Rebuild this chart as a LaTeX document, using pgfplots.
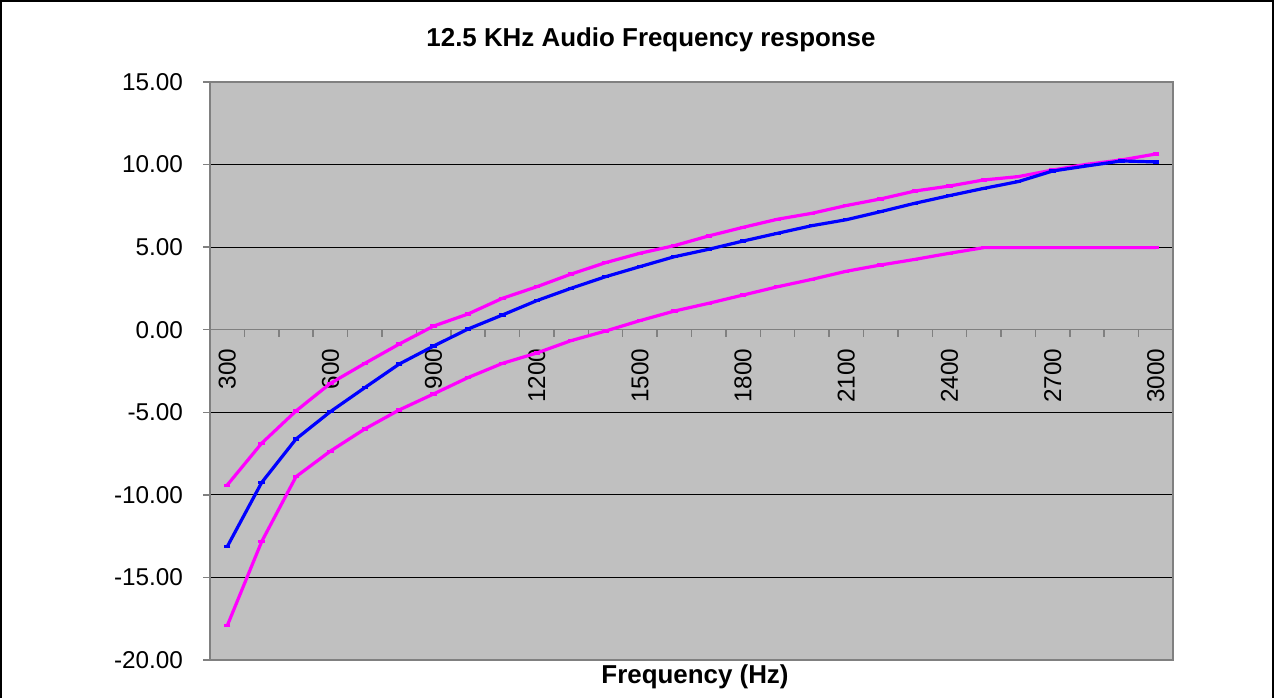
\documentclass[border=0pt]{standalone}
\usepackage{pgfplots}
\pgfplotsset{compat=1.18}
\usepackage{pgfplotstable}
\usepackage{fontspec}
\setmainfont{Liberation Sans}
\definecolor{bgGray}{HTML}{C0C0C0}
\definecolor{frameGray}{HTML}{808080}
\definecolor{exBlue}{HTML}{0000FF}
\definecolor{exPink}{HTML}{FF00FF}

\pgfplotstableread{
x U B L
300 -9.41 -13.14 -17.93
400 -6.88 -9.26 -12.84
500 -4.92 -6.62 -8.90
600 -3.25 -4.96 -7.35
700 -2.04 -3.51 -6.01
800 -0.87 -2.08 -4.86
900 0.22 -0.99 -3.89
1000 0.95 0.04 -2.90
1100 1.90 0.89 -2.04
1200 2.60 1.76 -1.41
1300 3.37 2.51 -0.66
1400 4.06 3.21 -0.08
1500 4.63 3.82 0.55
1600 5.09 4.42 1.13
1700 5.68 4.87 1.60
1800 6.20 5.37 2.10
1900 6.69 5.84 2.60
2000 7.05 6.30 3.05
2100 7.52 6.66 3.54
2200 7.92 7.15 3.92
2300 8.40 7.66 4.26
2400 8.70 8.12 4.63
2500 9.07 8.56 4.97
2600 9.27 8.97 4.97
2700 9.67 9.61 4.97
2800 10.02 9.92 4.97
2900 10.28 10.22 4.97
3000 10.64 10.16 4.97
}\datatable

\begin{document}
\begin{tikzpicture}[x=1bp,y=1bp]
\useasboundingbox (0,0) rectangle (637,349);
\draw[line width=1bp] (0.75,0) -- (0.75,348.25) -- (636.25,348.25) -- (636.25,0);
\pgfplotsset{myax/.style={scale only axis, width=481.5bp, height=289bp,
  at={(105bp,19bp)}, anchor=south west,
  xmin=250, xmax=3050, ymin=-20, ymax=15}}
% background, grid, y axis
\begin{axis}[myax,
  axis background/.style={fill=bgGray},
  axis line style={draw=frameGray, line width=0.75bp},
  xtick=\empty,
  ytick={-20,-15,...,15},
  yticklabels={-20.00,-15.00,-10.00,-5.00,0.00,5.00,10.00,15.00},
  ymajorgrids,
  major grid style={black, line width=0.5bp},
  ytick pos=left, tick align=outside,
  major tick length=3.5bp,
  tick style={frameGray, line width=0.75bp},
  yticklabel style={font=\fontsize{12.2}{14}\selectfont, xshift=-6.5bp},
]
\end{axis}
% x axis at y=0
\begin{axis}[myax,
  axis x line=middle, axis y line=none,
  axis line style={-, draw=frameGray, line width=0.75bp},
  xtick={250,350,...,3050},
  xticklabels={},
  tick align=outside,
  major tick length=3.5bp,
  tick style={frameGray, line width=0.75bp},
  ytick=\empty,
  extra x ticks={300,600,900,1200,1500,1800,2100,2400,2700,3000},
  extra x tick labels={{300},{600},{900},{1200},{1500},{1800},{2100},{2400},{2700},{3000}},
  extra x tick style={major tick length=0pt,
    tick label style={rotate=90, anchor=east, font=\fontsize{12.2}{14}\selectfont, xshift=-6bp}},
]
\end{axis}
% data
\begin{axis}[myax, axis lines=none, clip=false]
\addplot[exPink, line width=1.6bp, mark=-, mark size=1.6bp] table[x=x,y=U] {\datatable};
\addplot[exBlue, line width=1.6bp, mark=-, mark size=1.6bp] table[x=x,y=B] {\datatable};
\addplot[exPink, line width=1.6bp, mark=-, mark size=1.6bp] table[x=x,y=L] {\datatable};
\end{axis}
\node[font=\bfseries\fontsize{13}{15}\selectfont] at (325.5,329) {12.5 KHz Audio Frequency response};
\node[font=\bfseries\fontsize{13}{15}\selectfont] at (347.5,10.5) {Frequency (Hz)};
\end{tikzpicture}
\end{document}
